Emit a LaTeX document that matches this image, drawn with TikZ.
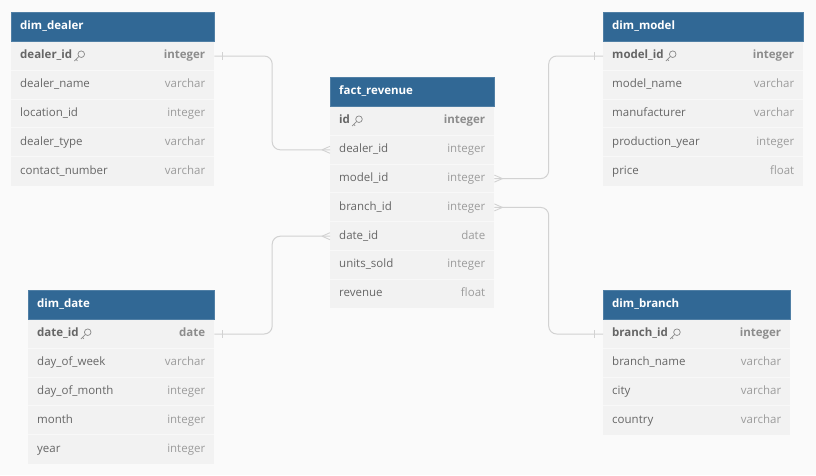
\documentclass[tikz,border=0pt]{standalone}
\usepackage{fontspec}
\setmainfont{Open Sans}
\usetikzlibrary{positioning,calc}
\definecolor{hdblue}{HTML}{316895}
\definecolor{rowgray}{HTML}{F2F2F2}
\definecolor{sepgray}{HTML}{F8F8F8}
\definecolor{bggray}{HTML}{FAFAFA}
\definecolor{linegray}{HTML}{D2D2D2}
\definecolor{namegray}{HTML}{666666}
\definecolor{typegray}{HTML}{9C9C9C}
\tikzstyle{hd}=[fill=hdblue,draw=hdblue!85!white,minimum height=29pt,inner sep=0pt,anchor=north west]
\tikzstyle{rw}=[fill=rowgray,minimum height=28.8pt,inner sep=0pt,anchor=north west]
\tikzstyle{txt}=[inner sep=0pt,text height=8.4pt,text depth=2.6pt,font=\fontsize{11.5}{13}\selectfont]
\tikzstyle{nm}=[txt,text=namegray,anchor=west]
\tikzstyle{ty}=[txt,text=typegray,anchor=east]
\tikzstyle{ky}=[txt,text=namegray,anchor=west,font=\fontsize{11.5}{13}\selectfont\bfseries]
\tikzstyle{kt}=[txt,text=namegray!75!white,anchor=east,font=\fontsize{11.5}{13}\selectfont\bfseries]
\tikzstyle{ttl}=[txt,text=white,anchor=west,font=\fontsize{11.5}{13}\selectfont\bfseries]
\tikzstyle{conn}=[draw=linegray,line width=1pt,rounded corners=8pt]
\tikzstyle{mark1}=[draw=linegray,line width=0.9pt]
\tikzstyle{keyln}=[draw=namegray!75!white,line width=0.75pt]

% table: name, x, y, width, title, key name, key type, other rows
\newcommand{\ertable}[8]{%
  \node[hd,minimum width=#4pt] (#1) at (#2,#3) {};
  \node[ttl] at ([xshift=9pt]#1.west) {#5};
  \node[rw,minimum width=#4pt] (#1-1) at (#1.south west) {};
  \node[ky] (#1-1-n) at ([xshift=9pt]#1-1.west) {#6};
  \node[kt] at ([xshift=-9pt]#1-1.east) {#7};
  \keyicon{#1-1-n.east}
  \foreach \nm/\ty [count=\i from 2] in {#8} {
    \node[rw,minimum width=#4pt] (#1-\i) at ($(#1.south west)+(0,{(\i-1)*28.8})$) {};
    \draw[sepgray,line width=0.8pt] (#1-\i.north west) -- (#1-\i.north east);
    \node[nm] at ([xshift=9pt]#1-\i.west) {\nm};
    \node[ty] at ([xshift=-9pt]#1-\i.east) {\ty};
  }
}
\newcommand{\keyicon}[1]{%
  \draw[keyln] ($(#1)+(8.8,-1.8)$) circle (3.3pt);
  \draw[keyln] ($(#1)+(6.5,0.5)$) -- ++(-4.5,4.5) ++(1.6,-1.6) -- ++(1.4,1.4);
}

\begin{document}
\begin{tikzpicture}[x=1pt,y=-1pt]
\fill[bggray] (0,0) rectangle (816,475);
\useasboundingbox (0,0) rectangle (816,475);

\ertable{dealer}{11}{12}{203}{dim\_dealer}{dealer\_id}{integer}{dealer\_name/varchar,location\_id/integer,dealer\_type/varchar,contact\_number/varchar}
\ertable{fact}{330}{77}{164}{fact\_revenue}{id}{integer}{dealer\_id/integer,model\_id/integer,branch\_id/integer,date\_id/date,units\_sold/integer,revenue/float}
\ertable{model}{603}{12}{200}{dim\_model}{model\_id}{integer}{model\_name/varchar,manufacturer/varchar,production\_year/integer,price/float}
\ertable{date}{28}{290}{186}{dim\_date}{date\_id}{date}{day\_of\_week/varchar,day\_of\_month/integer,month/integer,year/integer}
\ertable{branch}{603}{290}{187}{dim\_branch}{branch\_id}{integer}{branch\_name/varchar,city/varchar,country/varchar}

% connectors
\draw[conn] (dealer-1.east) -| ($(dealer-1.east)!.5!(fact-2.west)$) |- (fact-2.west);
\draw[conn] (model-1.west) -| ($(model-1.west)!.5!(fact-3.east)$) |- (fact-3.east);
\draw[conn] (branch-1.west) -| ($(branch-1.west)!.5!(fact-4.east)$) |- (fact-4.east);
\draw[conn] (date-1.east) -| ($(date-1.east)!.5!(fact-5.west)$) |- (fact-5.west);

% one ends
\draw[mark1] ([xshift=8pt]dealer-1.east) ++(0,-4) -- ++(0,8);
\draw[mark1] ([xshift=8pt]date-1.east) ++(0,-4) -- ++(0,8);
\draw[mark1] ([xshift=-9pt]model-1.west) ++(0,-4) -- ++(0,8);
\draw[mark1] ([xshift=-9pt]branch-1.west) ++(0,-4) -- ++(0,8);
% many ends
\draw[mark1] ([xshift=-8pt]fact-2.west) -- ++(8,-3.5) ([xshift=-8pt]fact-2.west) -- ++(8,3.5);
\draw[mark1] ([xshift=-8pt]fact-5.west) -- ++(8,-3.5) ([xshift=-8pt]fact-5.west) -- ++(8,3.5);
\draw[mark1] ([xshift=8pt]fact-3.east) -- ++(-8,-3.5) ([xshift=8pt]fact-3.east) -- ++(-8,3.5);
\draw[mark1] ([xshift=8pt]fact-4.east) -- ++(-8,-3.5) ([xshift=8pt]fact-4.east) -- ++(-8,3.5);
\end{tikzpicture}
\end{document}
